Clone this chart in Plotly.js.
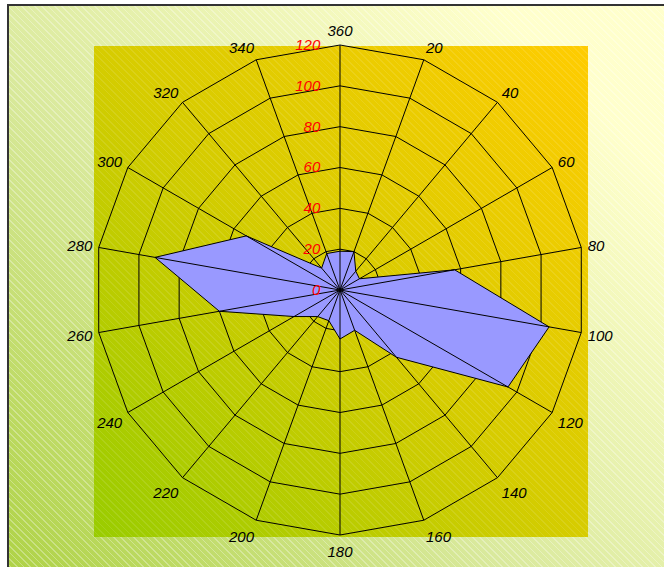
<!DOCTYPE html>
<html>
<head>
<meta charset="utf-8">
<script src="https://cdn.plot.ly/plotly-3.0.1.min.js"></script>
<style>
  html, body { margin:0; padding:0; width:664px; height:567px; overflow:hidden; background:#fff; }
  #bg { position:absolute; left:7px; top:4px; width:700px; height:700px; box-sizing:border-box;
        border-left:2px solid #333; border-top:2px solid #333;
        background:
          repeating-linear-gradient(45deg, rgba(255,255,255,0) 0px, rgba(255,255,255,0) 3.6px, rgba(255,255,255,0.3) 3.6px, rgba(255,255,255,0.3) 4.7px),
          linear-gradient(45deg, #a3cc2e 0%, #d9e99c 45%, #ffffcc 85%); }
  #plotrect { position:absolute; left:94px; top:46px; width:494px; height:491px;
        background:
          repeating-linear-gradient(45deg, rgba(255,255,255,0) 0px, rgba(255,255,255,0) 3.6px, rgba(255,255,255,0.1) 3.6px, rgba(255,255,255,0.1) 4.7px),
          linear-gradient(45deg, #99cc00 0%, #d6cc00 50%, #ffcc00 100%); }
  #chart { position:absolute; left:0; top:0; width:664px; height:567px; }
</style>
</head>
<body>
<div id="bg"></div>
<div id="plotrect"></div>
<div id="chart"></div>
<script>
const directionLabels = ['360', '20', '40', '60', '80', '100', '120', '140', '160', '180', '200', '220', '240', '260', '280', '300', '320', '340'];
const values = [19, 20, 12, 11, 57, 104, 95, 43, 21, 24, 16, 17, 26, 60, 92, 53, 14, 19];
const radialTicks = [0, 20, 40, 60, 80, 100, 120];
const radialMax = 120;

// closed polygon
const polyTheta = directionLabels.concat([directionLabels[0]]);
const polyR = values.concat([values[0]]);

// spokes from centre to each vertex
const spokeTheta = [], spokeR = [];
directionLabels.forEach((d, i) => { spokeTheta.push(d, d, null); spokeR.push(0, values[i], null); });

const traces = [
  { type: 'scatterpolar', r: polyR, theta: polyTheta, mode: 'lines', fill: 'toself',
    fillcolor: '#9999ff', line: { color: '#000', width: 1 }, hoverinfo: 'skip', showlegend: false },
  { type: 'scatterpolar', r: spokeR, theta: spokeTheta, mode: 'lines',
    line: { color: '#000', width: 1 }, hoverinfo: 'skip', showlegend: false, connectgaps: false }
];

const W = 664, H = 567;
const layout = {
  width: W, height: H,
  margin: { l: 0, r: 0, t: 0, b: 0 },
  paper_bgcolor: 'rgba(0,0,0,0)',
  plot_bgcolor: 'rgba(0,0,0,0)',
  showlegend: false,
  polar: {
    domain: { x: [95 / W, 585 / W], y: [1 - 535 / H, 1 - 45 / H] },
    bgcolor: 'rgba(0,0,0,0)',
    gridshape: 'linear',
    angularaxis: {
      type: 'category', categoryorder: 'array', categoryarray: directionLabels,
      rotation: 90, direction: 'clockwise',
      showline: true, linecolor: '#000', linewidth: 1,
      showgrid: true, gridcolor: '#000', gridwidth: 1,
      ticks: 'outside', ticklen: 3, tickcolor: 'rgba(0,0,0,0)',
      tickfont: { family: 'Liberation Sans, Arial, sans-serif', size: 15, color: '#000', style: 'italic' }
    },
    radialaxis: {
      range: [0, radialMax], angle: 90, side: 'counterclockwise',
      tickmode: 'array', tickvals: radialTicks,
      showline: false, showgrid: true, gridcolor: '#000', gridwidth: 1,
      ticks: 'outside', ticklen: 14, tickcolor: 'rgba(0,0,0,0)', tickangle: 90,
      tickfont: { family: 'Liberation Sans, Arial, sans-serif', size: 15, color: '#ff0000', style: 'italic' }
    }
  }
};

Plotly.newPlot('chart', traces, layout, { staticPlot: true, displayModeBar: false });
</script>
</body>
</html>
